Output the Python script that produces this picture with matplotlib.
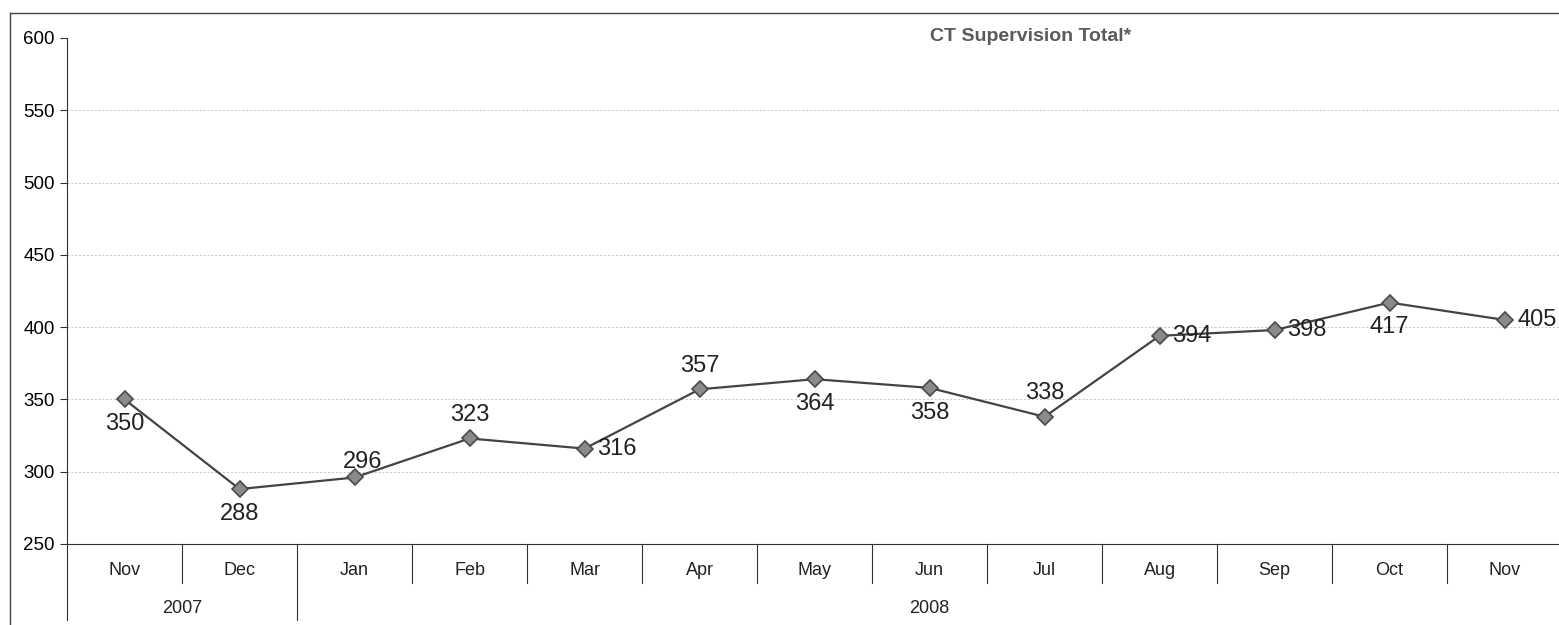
# ct-supervision.py

import matplotlib.pyplot as plt
from matplotlib.lines import Line2D

plt.rcParams['font.family'] = ['Liberation Sans', 'DejaVu Sans']

months = ['Nov', 'Dec', 'Jan', 'Feb', 'Mar', 'Apr', 'May', 'Jun', 'Jul', 'Aug', 'Sep', 'Oct', 'Nov']
totals = [350, 288, 296, 323, 316, 357, 364, 358, 338, 394, 398, 417, 405]
years = ['2007', '2008']
year_spans = [(0, 1), (2, 12)]
y_ticks = [250, 300, 350, 400, 450, 500, 550, 600]

# where each data label sits relative to its marker
label_pos = ['below', 'below', 'aboveright', 'above', 'right', 'above', 'below',
             'below', 'above', 'right', 'right', 'below', 'right']
offsets = {'below': ((0, -10), 'center', 'top'),
           'above': ((0, 9), 'center', 'bottom'),
           'aboveright': ((6, 3), 'center', 'bottom'),
           'right': ((9, 0), 'left', 'center')}

fig = plt.figure(figsize=(15.59, 6.25), dpi=100)
ax = fig.add_axes([0.043, 0.1296, 0.959, 0.8096])

x = range(len(totals))
ax.plot(x, totals, color='#444444', lw=1.6, marker='D', ms=8,
        mfc='#8a8a8a', mec='#4a4a4a', mew=1.2, zorder=3)

for i, v in enumerate(totals):
    off, ha, va = offsets[label_pos[i]]
    ax.annotate(str(v), (i, v), xytext=off, textcoords='offset points',
                ha=ha, va=va, fontsize=17, color='#222222')

ax.set_xlim(-0.5, 12.5)
ax.set_ylim(250, 600)
ax.set_yticks(y_ticks)
ax.tick_params(axis='y', labelsize=13.5, length=5, width=0.8, color='#333333', pad=4)
ax.set_xticks([])
# dotted gridlines, none on the top value
for t in y_ticks[1:-1]:
    ax.axhline(t, color='#c4c4c4', lw=0.7, ls=(0, (2, 2)), zorder=0)
for edge in ['top', 'right']:
    ax.spines[edge].set_visible(False)
ax.spines['left'].set_color('#333333')
ax.spines['bottom'].set_color('#333333')

# category rows under the axis
trans = ax.get_xaxis_transform()
for i, m in enumerate(months):
    ax.text(i, -0.053, m, transform=trans, ha='center', va='center', fontsize=13, color='#222222')
for i in range(len(months) - 1):
    bottom = -0.15 if i == 1 else -0.077
    ax.add_line(Line2D([i + 0.5, i + 0.5], [0, bottom], transform=trans,
                       color='#333333', lw=0.8, clip_on=False))
ax.add_line(Line2D([-0.5, -0.5], [0, -0.15], transform=trans,
                   color='#333333', lw=0.8, clip_on=False))
for yr, (a, b) in zip(years, year_spans):
    ax.text((a + b) / 2, -0.127, yr, transform=trans, ha='center', va='center',
            fontsize=13, color='#222222')

# outer chart frame
fig.add_artist(Line2D([0.0064, 1], [0.979, 0.979], color='#444444', lw=1))
fig.add_artist(Line2D([0.0064, 0.0064], [0, 0.979], color='#444444', lw=1))

fig.text(0.661, 0.941, 'CT Supervision Total*', ha='center', va='center',
         fontsize=14, weight='bold', color='#5a5a5a')

plt.savefig('out.png', dpi=100)
